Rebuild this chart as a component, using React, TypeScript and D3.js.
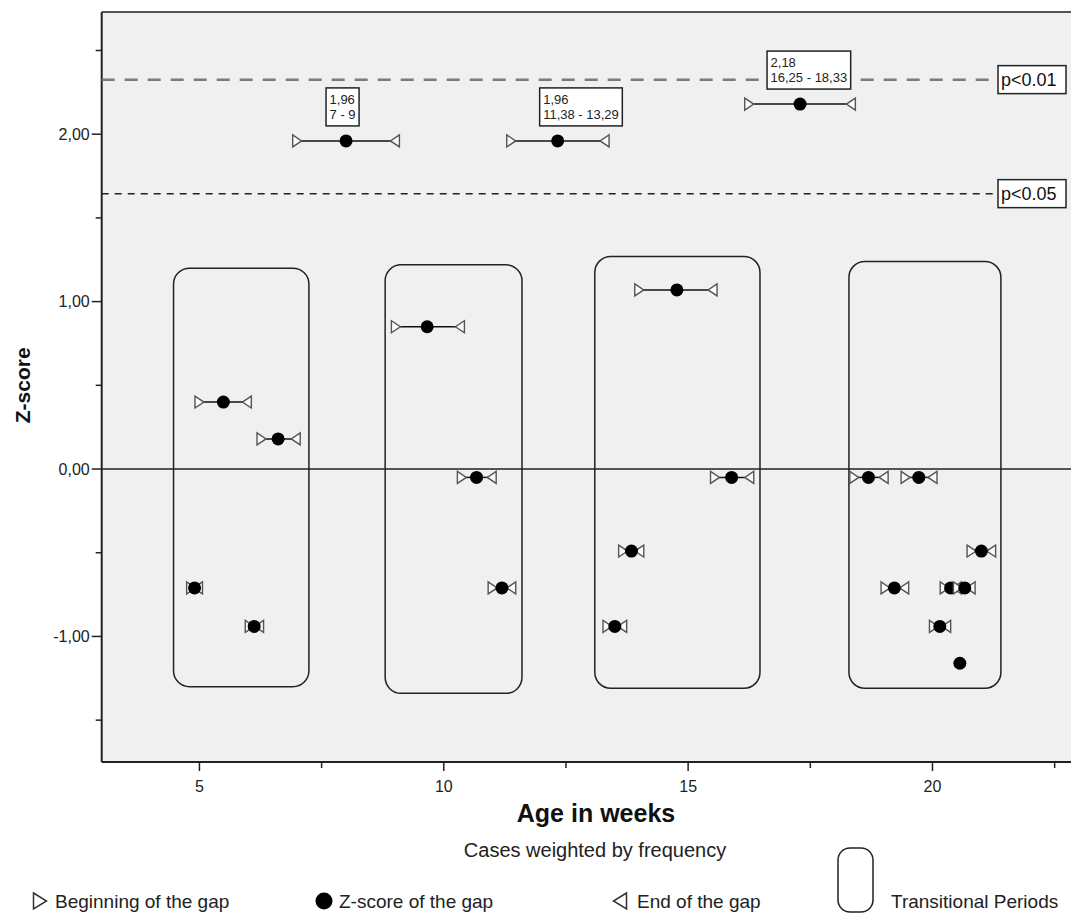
import React, { useRef, useEffect } from 'react';
import * as d3 from 'd3';

const W = 1071;
const H = 913;
const FONT = '"Liberation Sans", Arial, sans-serif';

// gaps: beginning, z-score dot position, end (weeks) and z value
const gapBegin = [7.0, 11.38, 16.25, 5.0, 6.27, 4.83, 6.03, 9.02, 10.37, 11.0, 14.0, 15.55, 13.67, 13.35, 18.4, 19.45, 20.8, 19.04, 20.25, 20.52, 20.03, 20.56];
const gapMid = [8.0, 12.33, 17.29, 5.49, 6.61, 4.9, 6.12, 9.66, 10.67, 11.19, 14.77, 15.89, 13.84, 13.5, 18.69, 19.72, 21.0, 19.22, 20.37, 20.66, 20.15, 20.56];
const gapEnd = [9.0, 13.29, 18.33, 5.97, 6.97, 4.97, 6.22, 10.33, 10.98, 11.38, 15.5, 16.25, 14.0, 13.65, 19.0, 20.0, 21.2, 19.42, 20.5, 20.78, 20.28, 20.56];
const gapZ = [1.96, 1.96, 2.18, 0.40, 0.18, -0.71, -0.94, 0.85, -0.05, -0.71, 1.07, -0.05, -0.49, -0.94, -0.05, -0.05, -0.49, -0.71, -0.71, -0.71, -0.94, -1.16];

// labelled gaps (index into the arrays above) and their two text lines
const labelGap = [0, 1, 2];
const labelLine1 = ['1,96', '1,96', '2,18'];
const labelLine2 = ['7 - 9', '11,38 - 13,29', '16,25 - 18,33'];
const labelDx = [-20, -18, -33];

// transitional periods
const periodStart = [4.47, 8.8, 13.09, 18.29];
const periodEnd = [7.24, 11.6, 16.47, 21.4];
const periodTop = [1.2, 1.22, 1.27, 1.24];
const periodBottom = [-1.3, -1.34, -1.31, -1.31];

// significance thresholds
const thresholdValues = [2.326, 1.645];
const thresholdLabels = ['p<0.01', 'p<0.05'];

const xMajor = [5, 10, 15, 20];
const xMinor = [7.5, 12.5, 17.5, 22.5];
const yMajor = [-1, 0, 1, 2];
const yMinor = [-1.5, -0.5, 0.5, 1.5, 2.5];

const App = () => {
    const svgRef = useRef(null);

    useEffect(() => {
        const svg = d3.select(svgRef.current);
        svg.selectAll('*').remove();

        const left = 101.7, top = 12, bottom = 762;
        const x = d3.scaleLinear().domain([3, 23]).range([left, left + 20 * 48.87]);
        const y = d3.scaleLinear().domain([-1.75, 2.73]).range([bottom, top]);
        // SPSS style: comma decimals, plain hyphen for minus
        const fmt = (v) => d3.format('.2f')(v).replace('.', ',').replace('\u2212', '-');

        // plot background
        svg.append('rect')
            .attr('x', left).attr('y', top)
            .attr('width', W - left + 10).attr('height', bottom - top)
            .attr('fill', '#f0f0f0');

        // top frame
        svg.append('line').attr('x1', left).attr('x2', W + 5).attr('y1', top).attr('y2', top)
            .attr('stroke', '#555').attr('stroke-width', 2);

        // y axis
        const yAxis = svg.append('g').attr('transform', `translate(${left},0)`);
        yAxis.append('line').attr('y1', top).attr('y2', bottom).attr('stroke', '#222').attr('stroke-width', 2);
        yAxis.selectAll('.ymaj').data(yMajor).enter().append('line')
            .attr('x1', -10).attr('x2', 0).attr('y1', d => y(d)).attr('y2', d => y(d))
            .attr('stroke', '#222').attr('stroke-width', 1.5);
        yAxis.selectAll('.ymin').data(yMinor).enter().append('line')
            .attr('x1', -6).attr('x2', 0).attr('y1', d => y(d)).attr('y2', d => y(d))
            .attr('stroke', '#222').attr('stroke-width', 1.5);
        yAxis.selectAll('text').data(yMajor).enter().append('text')
            .attr('x', -12).attr('y', d => y(d) + 5.5)
            .attr('text-anchor', 'end')
            .style('font-family', FONT).style('font-size', '16px').attr('fill', '#222')
            .text(d => fmt(d));

        // x axis
        const xAxis = svg.append('g').attr('transform', `translate(0,${bottom})`);
        xAxis.append('line').attr('x1', left).attr('x2', W + 5).attr('stroke', '#222').attr('stroke-width', 2);
        xAxis.selectAll('.xmaj').data(xMajor).enter().append('line')
            .attr('x1', d => x(d)).attr('x2', d => x(d)).attr('y1', 0).attr('y2', 9)
            .attr('stroke', '#222').attr('stroke-width', 1.5);
        xAxis.selectAll('.xmin').data(xMinor).enter().append('line')
            .attr('x1', d => x(d)).attr('x2', d => x(d)).attr('y1', 0).attr('y2', 6)
            .attr('stroke', '#222').attr('stroke-width', 1.5);
        xAxis.selectAll('text').data(xMajor).enter().append('text')
            .attr('x', d => x(d)).attr('y', 30)
            .attr('text-anchor', 'middle')
            .style('font-family', FONT).style('font-size', '16px').attr('fill', '#222')
            .text(d => d);

        // zero reference line
        svg.append('line').attr('x1', left).attr('x2', W + 5).attr('y1', y(0)).attr('y2', y(0))
            .attr('stroke', '#222').attr('stroke-width', 1.5);

        // threshold lines with labels
        thresholdValues.forEach((v, i) => {
            svg.append('line')
                .attr('x1', left).attr('x2', 997).attr('y1', y(v)).attr('y2', y(v))
                .attr('stroke', i === 0 ? '#7a7a7a' : '#222')
                .attr('stroke-width', i === 0 ? 2.5 : 1.5)
                .attr('stroke-dasharray', i === 0 ? '13,10' : '7,6');
            svg.append('rect')
                .attr('x', 998).attr('y', y(v) - 14).attr('width', 68).attr('height', 28)
                .attr('fill', '#fff').attr('stroke', '#222').attr('stroke-width', 1.5);
            svg.append('text')
                .attr('x', 1001).attr('y', y(v) + 6.5)
                .style('font-family', FONT).style('font-size', '18px').attr('fill', '#111')
                .text(thresholdLabels[i]);
        });

        // transitional periods
        periodStart.forEach((s, i) => {
            svg.append('rect')
                .attr('x', x(s)).attr('y', y(periodTop[i]))
                .attr('width', x(periodEnd[i]) - x(s))
                .attr('height', y(periodBottom[i]) - y(periodTop[i]))
                .attr('rx', 16).attr('ry', 16)
                .attr('fill', 'none').attr('stroke', '#222').attr('stroke-width', 1.5);
        });

        const triRight = (cx, cy, w, h) => `M${cx - w / 2},${cy - h / 2}L${cx + w / 2},${cy}L${cx - w / 2},${cy + h / 2}Z`;
        const triLeft = (cx, cy, w, h) => `M${cx + w / 2},${cy - h / 2}L${cx - w / 2},${cy}L${cx + w / 2},${cy + h / 2}Z`;

        // gaps
        const gaps = svg.append('g');
        gapZ.forEach((z, i) => {
            const cy = y(z);
            if (gapEnd[i] > gapBegin[i]) {
                gaps.append('line')
                    .attr('x1', x(gapBegin[i])).attr('x2', x(gapEnd[i])).attr('y1', cy).attr('y2', cy)
                    .attr('stroke', '#111').attr('stroke-width', 1.5);
                gaps.append('path').attr('d', triRight(x(gapBegin[i]), cy, 9, 12))
                    .attr('fill', '#fafafa').attr('stroke', '#555').attr('stroke-width', 1.4);
                gaps.append('path').attr('d', triLeft(x(gapEnd[i]), cy, 9, 12))
                    .attr('fill', '#fafafa').attr('stroke', '#555').attr('stroke-width', 1.4);
            }
            gaps.append('circle').attr('cx', x(gapMid[i])).attr('cy', cy).attr('r', 6.5).attr('fill', '#000');
        });

        // value labels for significant gaps
        labelGap.forEach((gi, i) => {
            const bx = x(gapMid[gi]) + labelDx[i];
            const by = y(gapZ[gi]) - 15 - 38;
            const g = svg.append('g');
            const rect = g.append('rect').attr('x', bx).attr('y', by).attr('height', 38)
                .attr('fill', '#fff').attr('stroke', '#222').attr('stroke-width', 1.5);
            const t1 = g.append('text').attr('x', bx + 3.5).attr('y', by + 16)
                .style('font-family', FONT).style('font-size', '13px').attr('fill', '#222').text(labelLine1[i]);
            const t2 = g.append('text').attr('x', bx + 3.5).attr('y', by + 31)
                .style('font-family', FONT).style('font-size', '13px').attr('fill', '#222').text(labelLine2[i]);
            const w = Math.max(t1.node().getComputedTextLength(), t2.node().getComputedTextLength());
            rect.attr('width', w + 7);
        });

        // axis titles
        svg.append('text')
            .attr('x', 596).attr('y', 822).attr('text-anchor', 'middle')
            .style('font-family', FONT).style('font-size', '25px').style('font-weight', 'bold').attr('fill', '#111')
            .text('Age in weeks');
        svg.append('text')
            .attr('transform', `translate(30,${y(0.5)}) rotate(-90)`)
            .attr('text-anchor', 'middle')
            .style('font-family', FONT).style('font-size', '21px').style('font-weight', 'bold').attr('fill', '#111')
            .text('Z-score');
        svg.append('text')
            .attr('x', 595).attr('y', 857).attr('text-anchor', 'middle')
            .style('font-family', FONT).style('font-size', '20px').attr('fill', '#222')
            .text('Cases weighted by frequency');

        // legend
        const ly = 901;
        const leg = svg.append('g').style('font-family', FONT).style('font-size', '19px').attr('fill', '#222');
        leg.append('path').attr('d', triRight(40, ly, 13, 16)).attr('fill', '#fff').attr('stroke', '#333').attr('stroke-width', 1.5);
        leg.append('text').attr('x', 55).attr('y', ly + 7).text('Beginning of the gap');
        leg.append('circle').attr('cx', 324).attr('cy', ly).attr('r', 8.5).attr('fill', '#000');
        leg.append('text').attr('x', 339).attr('y', ly + 7).text('Z-score of the gap');
        leg.append('path').attr('d', triLeft(620, ly, 13, 16)).attr('fill', '#fff').attr('stroke', '#333').attr('stroke-width', 1.5);
        leg.append('text').attr('x', 637).attr('y', ly + 7).text('End of the gap');
        leg.append('rect').attr('x', 838).attr('y', 848).attr('width', 35).attr('height', 64)
            .attr('rx', 12).attr('ry', 12).attr('fill', 'none').attr('stroke', '#222').attr('stroke-width', 1.5);
        leg.append('text').attr('x', 891).attr('y', ly + 7).text('Transitional Periods');
    }, []);

    return (
        <svg
            ref={svgRef}
            width={W}
            height={H}
            style={{ position: 'absolute', left: 0, top: 0, background: '#fff' }}
        />
    );
};

export default App;
